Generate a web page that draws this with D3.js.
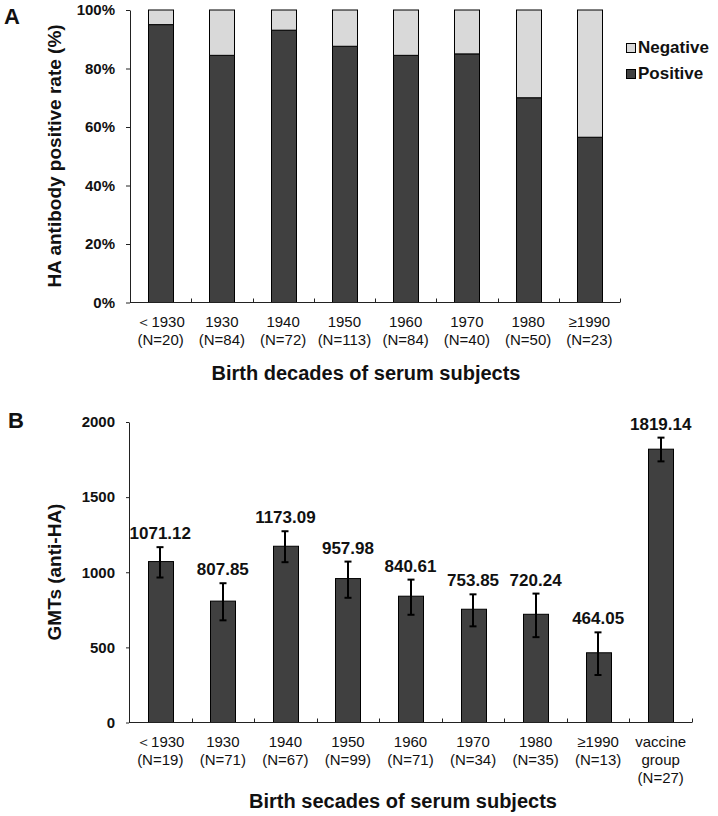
<!DOCTYPE html>
<html><head><meta charset="utf-8">
<script src="https://cdn.jsdelivr.net/npm/d3@7"></script>
<style>
body{margin:0;background:#fff}
svg{display:block}
text{font-family:"Liberation Sans",Arial,sans-serif;fill:#111}
</style>
</head><body>
<svg id="c" width="718" height="816"></svg>
<script>
// ---------- Panel A data ----------
const decadesA = ["＜1930","1930","1940","1950","1960","1970","1980","≥1990"];
const nA = [20,84,72,113,84,40,50,23];
const positiveA = [95.0,84.5,93.1,87.6,84.5,85.0,70.0,56.5];
const negativeA = [5.0,15.5,6.9,12.4,15.5,15.0,30.0,43.5];
const ticksA = [0,20,40,60,80,100];
const seriesA = ["Positive","Negative"];

// ---------- Panel B data ----------
const decadesB = ["＜1930","1930","1940","1950","1960","1970","1980","≥1990","vaccine group"];
const nB = [19,71,67,99,71,34,35,13,27];
const gmtB = [1071.12,807.85,1173.09,957.98,840.61,753.85,720.24,464.05,1819.14];
const errUpperB = [1167,927,1273,1071,951,853,858,600,1896];
const errLowerB = [965,680,1067,830,717,640,568,316,1738];
const ticksB = [0,500,1000,1500,2000];

const svg = d3.select("#c");
const colors = {Positive:"#404040", Negative:"#d9d9d9"};
const barW = 25;
const axisColor = "#222";

// ================= Panel A =================
const gA = svg.append("g");
const xA = d3.scaleBand().domain(decadesA).range([130,620]).padding(0);
const yA = d3.scaleLinear().domain([0,100]).range([302.5,10]);

const rowsA = decadesA.map((c,i)=>({cat:c, Positive:positiveA[i], Negative:negativeA[i]}));
const stackA = d3.stack().keys(seriesA)(rowsA);

gA.selectAll("g.layer").data(stackA).join("g").attr("class","layer")
  .attr("fill", d=>colors[d.key])
  .selectAll("rect").data(d=>d).join("rect")
  .attr("x", d=>Math.round(xA(d.data.cat)+xA.bandwidth()/2-barW/2)+0.5)
  .attr("width", barW)
  .attr("y", d=>yA(d[1]))
  .attr("height", d=>yA(d[0])-yA(d[1]))
  .attr("stroke","#000").attr("stroke-width",1);

// y axis A
const yAxA = gA.append("g").attr("transform","translate(130,0)")
  .call(d3.axisLeft(yA).tickValues(ticksA).tickFormat(d=>d+"%").tickSize(4).tickSizeOuter(0).tickPadding(11));
yAxA.selectAll("text").attr("font-size",15).attr("font-weight","bold").attr("font-family",null);
yAxA.selectAll("path,line").attr("stroke",axisColor);

// x axis helper
function xAxis(g, x, y0, cats, ns){
  g.append("line").attr("x1",x.range()[0]).attr("x2",x.range()[1])
    .attr("y1",y0).attr("y2",y0).attr("stroke",axisColor);
  const step = x.step();
  cats.forEach((c,i)=>{
    const bx = Math.round(x(c)+step)+0.5;
    g.append("line").attr("x1",bx).attr("x2",bx).attr("y1",y0).attr("y2",y0-4).attr("stroke",axisColor);
  });
  cats.forEach((c,i)=>{
    const lines = c.split(" ").concat(["(N="+ns[i]+")"]);
    const t = g.append("text").attr("text-anchor","middle")
      .attr("x", x(c)+x.bandwidth()/2).attr("y", y0+24).attr("font-size",15);
    lines.forEach((l,j)=>t.append("tspan").attr("x", x(c)+x.bandwidth()/2).attr("dy", j?18:0).text(l));
  });
}
xAxis(gA, xA, 302.5, decadesA, nA);

gA.append("text").attr("x",366).attr("y",380).attr("text-anchor","middle")
  .attr("font-size",20).attr("font-weight","bold").text("Birth decades of serum subjects");
gA.append("text").attr("transform","translate(61,156) rotate(-90)").attr("text-anchor","middle")
  .attr("font-size",19).attr("font-weight","bold").text("HA antibody positive rate (%)");
gA.append("text").attr("x",4).attr("y",24).attr("font-size",22).attr("font-weight","bold").text("A");

// legend
const legA = gA.append("g");
["Negative","Positive"].forEach((k,i)=>{
  legA.append("rect").attr("x",626.5).attr("y",43.5+i*26).attr("width",9).attr("height",9)
    .attr("fill",colors[k]).attr("stroke","#000");
  legA.append("text").attr("x",638).attr("y",53+i*26).attr("font-size",17).attr("font-weight","bold").text(k);
});

// ================= Panel B =================
const gB = svg.append("g");
const xB = d3.scaleBand().domain(decadesB).range([129,692]).padding(0);
const yB = d3.scaleLinear().domain([0,2000]).range([722.5,422]);
const rowsB = decadesB.map((c,i)=>({cat:c, v:gmtB[i], hi:errUpperB[i], lo:errLowerB[i]}));
const cx = d=>xB(d.cat)+xB.bandwidth()/2;

gB.selectAll("rect.bar").data(rowsB).join("rect").attr("class","bar")
  .attr("x", d=>Math.round(cx(d)-barW/2)+0.5).attr("width",barW)
  .attr("y", d=>yB(d.v)).attr("height", d=>yB(0)-yB(d.v))
  .attr("fill",colors.Positive).attr("stroke","#000");

const eb = gB.selectAll("g.eb").data(rowsB).join("g").attr("class","eb")
  .attr("stroke","#000").attr("stroke-width",2);
eb.append("line").attr("x1",d=>Math.round(cx(d))).attr("x2",d=>Math.round(cx(d)))
  .attr("y1",d=>yB(d.lo)).attr("y2",d=>yB(d.hi));
eb.append("line").attr("x1",d=>Math.round(cx(d))-3.5).attr("x2",d=>Math.round(cx(d))+3.5)
  .attr("y1",d=>yB(d.hi)).attr("y2",d=>yB(d.hi));
eb.append("line").attr("x1",d=>Math.round(cx(d))-3.5).attr("x2",d=>Math.round(cx(d))+3.5)
  .attr("y1",d=>yB(d.lo)).attr("y2",d=>yB(d.lo));

gB.selectAll("text.val").data(rowsB).join("text").attr("class","val")
  .attr("x",cx).attr("y",d=>yB(d.hi)-8).attr("text-anchor","middle")
  .attr("font-size",17).attr("font-weight","bold").text(d=>d3.format(".2f")(d.v));

const yAxB = gB.append("g").attr("transform","translate(129,0)")
  .call(d3.axisLeft(yB).tickValues(ticksB).tickFormat(d3.format("d")).tickSize(3).tickSizeOuter(0).tickPadding(11));
yAxB.selectAll("text").attr("font-size",15).attr("font-weight","bold").attr("font-family",null);
yAxB.selectAll("path,line").attr("stroke",axisColor);

xAxis(gB, xB, 722.5, decadesB, nB);

gB.append("text").attr("x",403).attr("y",808).attr("text-anchor","middle")
  .attr("font-size",20).attr("font-weight","bold").text("Birth secades of serum subjects");
gB.append("text").attr("transform","translate(61,572) rotate(-90)").attr("text-anchor","middle")
  .attr("font-size",19).attr("font-weight","bold").text("GMTs (anti-HA)");
gB.append("text").attr("x",8).attr("y",428).attr("font-size",22).attr("font-weight","bold").text("B");
</script>
</body></html>
